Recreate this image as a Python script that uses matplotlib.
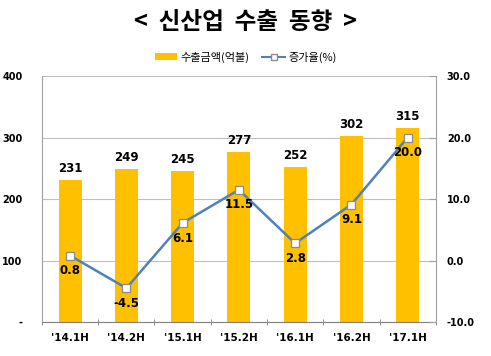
import matplotlib
matplotlib.use("Agg")
import matplotlib.pyplot as plt
from matplotlib.ticker import FixedLocator, FuncFormatter
from matplotlib.lines import Line2D
from matplotlib.patches import Patch

plt.rcParams["font.family"] = ["Noto Sans CJK KR", "DejaVu Sans"]

# ── 데이터 ──────────────────────────────────────────────
periods = ["'14.1H", "'14.2H", "'15.1H", "'15.2H", "'16.1H", "'16.2H", "'17.1H"]
export_amt = [231, 249, 245, 277, 252, 302, 315]
growth = [0.8, -4.5, 6.1, 11.5, 2.8, 9.1, 20.0]

BAR_COLOR = "#FFC000"
LINE_COLOR = "#4F81BD"
GRID_COLOR = "#BFBFBF"

fig = plt.figure(figsize=(4.91, 3.56), dpi=100)
ax = fig.add_axes([0.0855, 0.0955, 0.802, 0.691])
ax2 = ax.twinx()

x = list(range(len(periods)))
ax.bar(x, export_amt, width=0.41, color=BAR_COLOR, zorder=2)
for xi, v in zip(x, export_amt):
    ax.text(xi, v + 8, f"{v}", ha="center", va="bottom", fontsize=8.5,
            fontweight="bold", family=["DejaVu Sans"])

ax.set_xlim(-0.5, len(periods) - 0.5)
ax.set_ylim(0, 400)
ax.set_yticks([0, 100, 200, 300, 400])
ax.yaxis.set_major_formatter(FuncFormatter(lambda v, p: "-" if v == 0 else f"{v:.0f}"))
ax.grid(axis="y", color=GRID_COLOR, linewidth=0.8, zorder=0)
ax.set_axisbelow(True)
ax.set_xticks(x)
ax.set_xticklabels(periods, fontsize=7.5, fontweight="bold", family=["DejaVu Sans"])
ax.xaxis.set_minor_locator(FixedLocator([i - 0.5 for i in range(len(periods) + 1)]))
ax.tick_params(axis="x", which="major", length=0, pad=8)
ax.tick_params(axis="x", which="minor", length=4, color="#808080", direction="inout")
ax.tick_params(axis="y", length=0, labelsize=7, pad=14)
for lbl in ax.get_yticklabels():
    lbl.set_fontweight("bold")
    lbl.set_family(["DejaVu Sans"])
for s in ["top", "right"]:
    ax.spines[s].set_visible(False)
ax.spines["left"].set_color("#A0A0A0")
ax.spines["bottom"].set_color("#808080")

ax2.plot(x, growth, color=LINE_COLOR, linewidth=1.8, marker="s", markersize=6,
         markerfacecolor="white", markeredgecolor="#8C8C8C", markeredgewidth=0.9, zorder=3)
for xi, v in zip(x, growth):
    ax2.text(xi, v - 1.4, f"{v:.1f}", ha="center", va="top", fontsize=8.5,
             fontweight="bold", family=["DejaVu Sans"])
ax2.set_ylim(-10, 30)
ax2.set_yticks([-10, 0, 10, 20, 30])
ax2.yaxis.set_major_formatter(FuncFormatter(lambda v, p: f"{v:.1f}"))
ax2.tick_params(axis="y", length=5, color="#A0A0A0", direction="in", labelsize=7, pad=8)
for lbl in ax2.get_yticklabels():
    lbl.set_fontweight("bold")
    lbl.set_family(["DejaVu Sans"])
for s in ["top", "left", "bottom"]:
    ax2.spines[s].set_visible(False)
ax2.spines["right"].set_color("#A0A0A0")

fig.text(0.5, 0.938, "<  신산업  수출  동향  >", ha="center", va="center",
         fontsize=17, fontweight="bold")

handles = [Patch(facecolor=BAR_COLOR, edgecolor="none"),
           Line2D([0], [0], color=LINE_COLOR, linewidth=1.5, marker="s", markersize=5,
                  markerfacecolor="white", markeredgecolor="#8C8C8C")]
fig.legend(handles, ["수출금액(억불)", "증가율(%)"], loc="center", bbox_to_anchor=(0.5, 0.84),
           ncol=2, frameon=False, fontsize=8, handlelength=2.0, handleheight=0.6,
           columnspacing=1.2, handletextpad=0.3)

fig.savefig("out.png", dpi=100)
